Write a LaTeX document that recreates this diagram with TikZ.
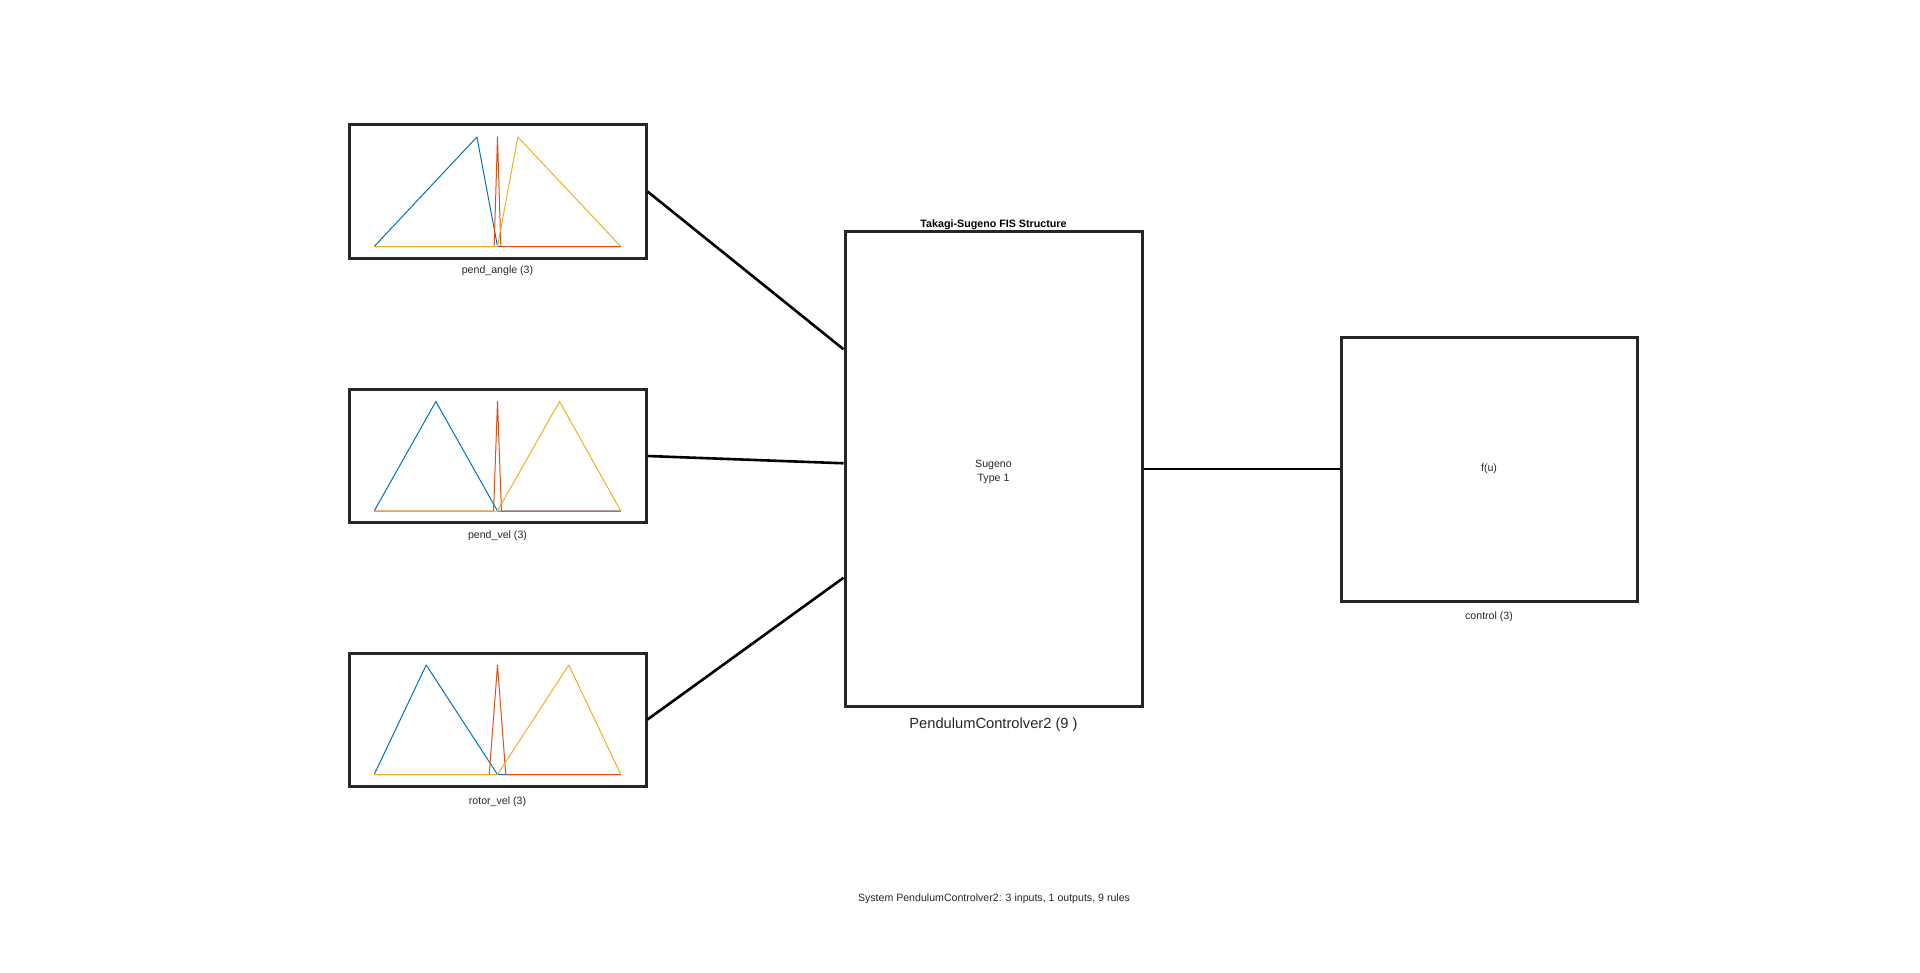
\documentclass[tikz,border=0pt]{standalone}
\usepackage{fontspec}
\setmainfont{Liberation Sans}
\usetikzlibrary{calc}
\definecolor{mfblue}{RGB}{0,114,189}
\definecolor{mforange}{RGB}{217,83,25}
\definecolor{mfyellow}{RGB}{237,177,32}
\definecolor{boxgray}{RGB}{38,38,38}
\tikzset{
  fisbox/.style={draw=boxgray,line width=1.5pt,inner sep=0pt,minimum width=297*0.5pt},
  wire/.style={line width=1.3pt,black},
  mfline/.style={line width=0.5pt,line join=round},
  lbl/.style={font=\fontsize{5.3}{7}\selectfont,text=boxgray,inner sep=0pt,align=center}
}
% membership functions of one input: box, blue peak, orange half width, yellow peak
\newcommand{\mfplot}[4]{%
  \begin{scope}[shift={($(#1.center)+(0,55)$)},x=61.65pt,y=54.75pt]
    \draw[mfline,mfblue](-1,0)--(#2,1)--(0,0)--(1,0);
    \draw[mfline,mforange](-1,0)--(-#3,0)--(0,1)--(#3,0)--(1,0);
    \draw[mfline,mfyellow](-1,0)--(0,0)--(#4,1)--(1,0);
  \end{scope}}
\begin{document}
\begin{tikzpicture}[x=0.5pt,y=-0.5pt]
  \useasboundingbox(0,0)rectangle(1920,973);
  % inputs
  \node[fisbox,minimum height=133*0.5pt](in1)at(497.5,191.5){};
  \node[fisbox,minimum height=133*0.5pt](in2)at(497.5,456){};
  \node[fisbox,minimum height=133*0.5pt](in3)at(497.5,719.5){};
  \mfplot{in1}{-0.167}{0.027}{0.165}
  \mfplot{in2}{-0.5}{0.032}{0.503}
  \mfplot{in3}{-0.578}{0.067}{0.578}
  \node[lbl](in1lbl)at($(in1.south)+(0,11.5)$){pend\_angle (3)};
  \node[lbl](in2lbl)at($(in2.south)+(0,11.5)$){pend\_vel (3)};
  \node[lbl](in3lbl)at($(in3.south)+(0,14)$){rotor\_vel (3)};
  % FIS block
  \node[fisbox,minimum height=474*0.5pt](fis)at(993.5,469){};
  \node[lbl](fistype)at(993.5,471.5){Sugeno\\Type 1};
  \node[font=\bfseries\fontsize{5.35}{6}\selectfont,inner sep=0pt](fistitle)at($(fis.north)+(0,-6)$){Takagi-Sugeno FIS Structure};
  \node[font=\fontsize{7.35}{8}\selectfont,text=boxgray,inner sep=0pt](fisname)at($(fis.south)+(0,17.5)$){PendulumControlver2 (9 )};
  % output
  \node[fisbox,minimum width=296*0.5pt,minimum height=264*0.5pt](out)at(1489,469){};
  \node[lbl](outfun)at(out.center){f(u)};
  \node[lbl](outlbl)at($(out.south)+(0,14)$){control (3)};
  % connections
  \coordinate(fisin1)at($(fis.north west)!0.249!(fis.south west)$);
  \coordinate(fisin2)at($(fis.north west)!0.488!(fis.south west)$);
  \coordinate(fisin3)at($(fis.north west)!0.728!(fis.south west)$);
  \draw[wire](in1.east)--(fisin1);
  \draw[wire](in2.east)--(fisin2);
  \draw[wire](in3.east)--(fisin3);
  \draw[wire](fis.east)--(out.west);
  \node[lbl](summary)at(994,899){System PendulumControlver2: 3 inputs, 1 outputs, 9 rules};
\end{tikzpicture}
\end{document}
